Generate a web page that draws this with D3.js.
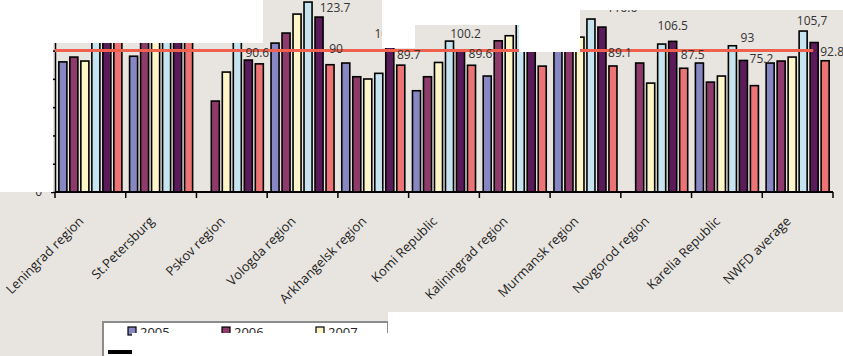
<!DOCTYPE html>
<html lang="en">
<head>
<meta charset="UTF-8" />
<title>NWFD regions, 2005-2010</title>
<script src="https://d3js.org/d3.v7.min.js"></script>
<style>
  body { margin: 0; background: #fff; }
  svg { display: block; font-family: "Open Sans", sans-serif; }
  .cat-label { font-size: 13px; fill: #1e1e1e; }
  .val-label { font-size: 12px; fill: #333; }
  .legend text { font-size: 13px; fill: #222; }
</style>
</head>
<body>

<svg width="843" height="356"></svg>

<script>
  const categories = ["Leningrad region", "St.Petersburg", "Pskov region", "Vologda region",
    "Arkhangelsk region", "Komi Republic", "Kaliningrad region", "Murmansk region",
    "Novgorod region", "Karelia Republic", "NWFD average"];
  const years = ["2005", "2006", "2007", "2008", "2009", "2010"];

  const v2005 = [92, 96, null, 105.3, 91.2, 71.6, 82, 101, null, 91.2, 91.2];
  const v2006 = [95.4, 112, 64.3, 112.4, 81.5, 81.5, 106.9, 103, 91.2, 77.7, 92.6];
  const v2007 = [92.6, 110, 84.8, 125.8, 79.9, 91.6, 110.5, 109.5, 77, 82, 95.4];
  const v2008 = [115, 118, 114, 134.3, 83.9, 106.7, 124, 122.3, 104.6, 103.4, 113.8];
  const v2009 = [112, 114, 93.3, 123.7, 102.3, 100.2, 104, 116.6, 106.5, 93, 105.7];
  const v2010 = [108, 108, 90.6, 90, 89.7, 89.6, 89, 89.1, 87.5, 75.2, 92.8];
  const series = [v2005, v2006, v2007, v2008, v2009, v2010];

  // data labels shown on the chart (2009 and 2010 bars)
  const labels2009 = [null, null, null, "123.7", "102.3", "100.2", null, "116.6", "106.5", "93", "105,7"];
  const labels2010 = [null, null, "90.6", "90", "89.7", "89.6", null, "89.1", "87.5", "75.2", "92.8"];

  const refValue = 100;

  // label offsets from the top centre of their bar (layout only)
  const nudge2009 = [null, null, null, [16, -9], [0, -14], [5, -16], null, [20, -19], [0, -16], [4, -23], [-2, -22]];
  const nudge2010 = [null, null, [-2, -11], [6, -16], [8, -10], [9, -11], null, [7, -13], [9, -13], [7, -27], [7, -9]];

  const svg = d3.select("svg");
  const colors = ["#8787c4", "#8e3b6b", "#fff6c8", "#c5e4f0", "#5b1b5b", "#ec7474"];
  const bg = "#e8e4df";

  const x = d3.scaleBand().domain(categories).range([55, 833]);
  const xi = d3.scaleBand().domain(years).range([0, x.bandwidth()])
    .paddingInner(0.27).paddingOuter(0.35);
  const y = d3.scaleLinear().domain([0, 140]).range([192, -6]);
  const color = d3.scaleOrdinal().domain(years).range(colors);

  svg.append("rect").attr("width", 843).attr("height", 356).attr("fill", bg);

  // bars
  const groups = svg.append("g").selectAll("g")
    .data(categories)
    .join("g")
    .attr("transform", d => `translate(${x(d)},0)`);

  groups.selectAll("rect")
    .data((c, i) => years.map((yr, j) => ({year: yr, v: series[j][i]})).filter(d => d.v != null))
    .join("rect")
    .attr("x", d => xi(d.year))
    .attr("y", d => y(d.v))
    .attr("width", xi.bandwidth())
    .attr("height", d => y(0) - y(d.v))
    .attr("fill", d => color(d.year))
    .attr("stroke", "#000")
    .attr("stroke-width", 1.6);

  // y axis
  const yAxis = svg.append("g")
    .attr("transform", "translate(55,0)")
    .call(d3.axisLeft(y).tickValues(d3.range(0, 121, 20)).tickSize(4).tickSizeOuter(0).tickPadding(9));
  yAxis.selectAll("line, path").attr("stroke", "#000").attr("stroke-width", 1.5);
  yAxis.selectAll("text").attr("font-size", 12).attr("fill", "#333").attr("font-family", "Open Sans");

  // x axis
  const edges = categories.map(c => x(c)).concat(x.range()[1]);
  svg.append("line")
    .attr("x1", x.range()[0]).attr("x2", x.range()[1])
    .attr("y1", y(0)).attr("y2", y(0))
    .attr("stroke", "#000").attr("stroke-width", 1.8);
  svg.append("g").selectAll("line")
    .data(edges)
    .join("line")
    .attr("x1", d => d).attr("x2", d => d)
    .attr("y1", y(0)).attr("y2", y(0) + 6)
    .attr("stroke", "#000").attr("stroke-width", 1.5);

  svg.append("g").selectAll("text")
    .data(categories)
    .join("text")
    .attr("class", "cat-label")
    .attr("text-anchor", "end")
    .attr("transform", d => `translate(${x(d) + x.bandwidth() / 2 - 6},222) rotate(-45)`)
    .text(d => d);

  // reference line at 100
  svg.append("line")
    .attr("x1", x.range()[0])
    .attr("x2", x("NWFD average") + x.bandwidth() * 0.72)
    .attr("y1", y(refValue)).attr("y2", y(refValue))
    .attr("stroke", "#f0604e").attr("stroke-width", 3);

  // value labels
  const valLabels = [];
  categories.forEach((c, i) => {
    if (labels2009[i]) valLabels.push({t: labels2009[i],
      x: x(c) + xi("2009") + xi.bandwidth() / 2 + nudge2009[i][0], y: y(v2009[i]) + nudge2009[i][1]});
    if (labels2010[i]) valLabels.push({t: labels2010[i],
      x: x(c) + xi("2010") + xi.bandwidth() / 2 + nudge2010[i][0], y: y(v2010[i]) + nudge2010[i][1]});
  });
  svg.append("g").selectAll("text")
    .data(valLabels)
    .join("text")
    .attr("class", "val-label")
    .attr("text-anchor", "middle")
    .attr("dy", "0.35em")
    .attr("x", d => d.x)
    .attr("y", d => d.y)
    .text(d => d.t);

  // legend
  const legend = svg.append("g").attr("class", "legend").attr("transform", "translate(103,322)");
  legend.append("rect")
    .attr("width", 285).attr("height", 40)
    .attr("fill", "#fff").attr("stroke", "#8c8c8c").attr("stroke-width", 2);
  const items = legend.selectAll("g.item")
    .data(years)
    .join("g")
    .attr("class", "item")
    .attr("transform", (d, i) => `translate(${25 + i * 94},5)`);
  items.append("rect")
    .attr("width", 8).attr("height", 8)
    .attr("fill", d => color(d)).attr("stroke", "#000").attr("stroke-width", 1.2);
  items.append("text")
    .attr("x", 12).attr("y", 10)
    .text(d => d);
  legend.append("rect")
    .attr("x", 5).attr("y", 28).attr("width", 24).attr("height", 4)
    .attr("fill", "#000");

  // blank areas that cover parts of the chart
  const masks = [
    [0, 0, 53, 192], [0, 0, 263, 43], [382, 0, 33, 48], [415, 0, 104, 25],
    [519, 0, 61, 52], [580, 0, 263, 10], [388, 312, 455, 44], [132, 333, 288, 23]
  ];
  svg.append("g").selectAll("rect")
    .data(masks)
    .join("rect")
    .attr("x", d => d[0]).attr("y", d => d[1])
    .attr("width", d => d[2]).attr("height", d => d[3])
    .attr("fill", "#fff");
</script>

</body>
</html>
